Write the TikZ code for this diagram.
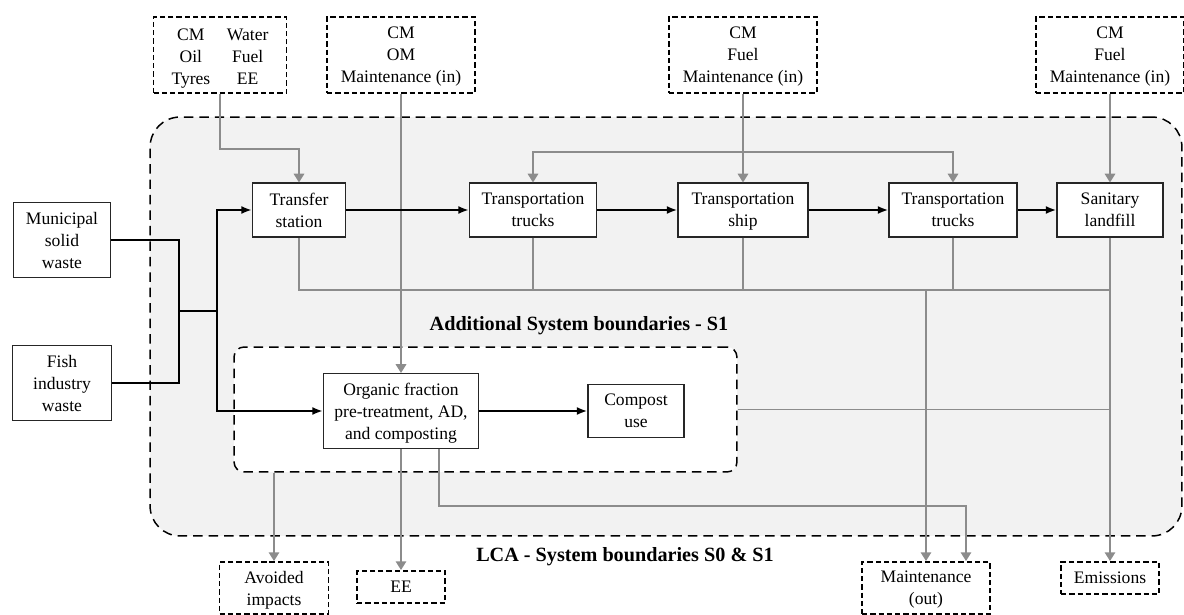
\documentclass[tikz,border=0pt]{standalone}
\usepackage{fontspec}
\setmainfont{Liberation Serif}
\usetikzlibrary{arrows.meta,calc}
\definecolor{linegray}{RGB}{140,140,140}
\definecolor{bggray}{RGB}{242,242,242}
\tikzset{
  proc/.style={draw=black!85, line width=0.6pt, fill=white, align=center, inner sep=1pt,
    text depth=0pt, font=\fontsize{10}{12.5}\selectfont},
  inbox/.style={proc, draw=black, line width=1.1pt, dash pattern=on 3pt off 1.7pt},
  flow/.style={->, line width=1.4pt},
  flowline/.style={line width=1.4pt},
  aux/.style={draw=linegray, line width=0.9pt},
  auxarrow/.style={aux, -{Triangle[length=5pt,width=6pt]}, color=linegray},
  bound/.style={font=\fontsize{11.5}{14}\selectfont\bfseries}
}
\begin{document}
\begin{tikzpicture}[x=0.02cm,y=-0.02cm,>={Latex[length=6pt,width=4.5pt]}]
        \useasboundingbox (0,0) rectangle (1184,615);

        % Limites del sistema
        \node[draw, fill=bggray, line width=0.85pt, dash pattern=on 5.4pt off 3.4pt,
              rounded corners=0.6cm, minimum width=20.64cm, minimum height=8.38cm] (lca) at (666,326.5) {};
        \node[draw, fill=white, line width=0.85pt, dash pattern=on 5.4pt off 3.4pt,
              rounded corners=0.2cm, minimum width=10.06cm, minimum height=2.5cm] (s1) at (485.5,409.5) {};
        \node[bound] (s1lbl) at (579,326) {Additional System boundaries - S1};
        \node[bound] (lcalbl) at (625,557) {LCA - System boundaries S0 \& S1};

        % Entradas
        \node[inbox, minimum width=2.66cm, minimum height=1.52cm] (in1) at (220,55)
              {\begin{tabular}[b]{@{}c@{\hspace{9.5pt}}c@{}}CM & Water\\ Oil & Fuel\\ Tyres & EE\end{tabular}};
        \node[inbox, minimum width=2.96cm, minimum height=1.52cm] (in2) at (401,55) {CM\\ OM\\ Maintenance (in)};
        \node[inbox, minimum width=2.96cm, minimum height=1.52cm] (in3) at (743,55) {CM\\ Fuel\\ Maintenance (in)};
        \node[inbox, minimum width=2.96cm, minimum height=1.52cm] (in4) at (1110,55) {CM\\ Fuel\\ Maintenance (in)};

        % Residuos
        \node[proc, minimum width=1.94cm, minimum height=1.5cm] (msw) at (62,240) {Municipal\\ solid\\ waste};
        \node[proc, minimum width=1.98cm, minimum height=1.5cm] (fish) at (62,383) {Fish\\ industry\\ waste};

        % Procesos
        \node[proc, minimum width=1.86cm, minimum height=1.08cm] (transfer) at (299,210) {Transfer\\ station};
        \node[proc, minimum width=2.54cm, minimum height=1.08cm] (truckA) at (533,210) {Transportation\\ trucks};
        \node[proc, minimum width=2.6cm, minimum height=1.08cm] (ship) at (743,210) {Transportation\\ ship};
        \node[proc, minimum width=2.56cm, minimum height=1.08cm] (truckB) at (953,210) {Transportation\\ trucks};
        \node[proc, minimum width=2.12cm, minimum height=1.08cm] (landfill) at (1110,210) {Sanitary\\ landfill};
        \node[proc, minimum width=3.1cm, minimum height=1.5cm] (organic) at (401,411) {Organic fraction\\ pre-treatment, AD,\\ and composting};
        \node[proc, minimum width=1.92cm, minimum height=1.06cm] (compost) at (636,411) {Compost\\ use};

        % Salidas
        \node[inbox, minimum width=2.18cm, minimum height=1.04cm] (avoided) at (274,588) {Avoided\\ impacts};
        \node[inbox, minimum width=1.76cm, minimum height=0.64cm] (ee) at (401,587) {EE};
        \node[inbox, minimum width=2.56cm, minimum height=1.04cm] (mout) at (926,588) {Maintenance\\ (out)};
        \node[inbox, minimum width=1.96cm, minimum height=0.64cm] (emis) at (1110,578) {Emissions};

        % Flujos grises
        \coordinate (loop) at (743,152);
        \coordinate (outl) at (299,290);
        \coordinate (mret) at (966,506);
        \draw[auxarrow] (in1.south) -- ++(0,55) -| (transfer.north);
        \draw[auxarrow] (in2.south) -- (organic.north);
        \draw[auxarrow] (in3.south) -- (ship.north);
        \draw[auxarrow] (loop) -| (truckA.north);
        \draw[auxarrow] (loop) -| (truckB.north);
        \draw[auxarrow] (in4.south) -- (landfill.north);
        \draw[aux] (transfer.south) -- (outl) -- (landfill.south |- outl);
        \foreach \n in {truckA,ship,truckB}
            \draw[aux] (\n.south) -- (\n.south |- outl);
        \draw[auxarrow] (landfill.south) -- (emis.north);
        \draw[auxarrow] (mout.north |- outl) -- (mout.north);
        \draw[aux] (s1.east) -- (s1.east -| landfill.south);
        \draw[auxarrow] (s1.south -| avoided.north) -- (avoided.north);
        \draw[auxarrow] (organic.south) -- (ee.north);
        \draw[auxarrow] ($(organic.south)+(38,0)$) |- (mret) -- (mret |- mout.north);

        % Flujos de residuos
        \coordinate (ja) at (179,311);
        \coordinate (jb) at (217,311);
        \draw[flowline] (msw.east) -| (ja);
        \draw[flowline] (fish.east) -| (ja);
        \draw[flowline] (ja) -- (jb);
        \draw[flow] (jb) |- (transfer.west);
        \draw[flow] (jb) |- (organic.west);
        \draw[flow] (transfer) -- (truckA);
        \draw[flow] (truckA) -- (ship);
        \draw[flow] (ship) -- (truckB);
        \draw[flow] (truckB) -- (landfill);
        \draw[flow] (organic) -- (compost);
\end{tikzpicture}
\end{document}
